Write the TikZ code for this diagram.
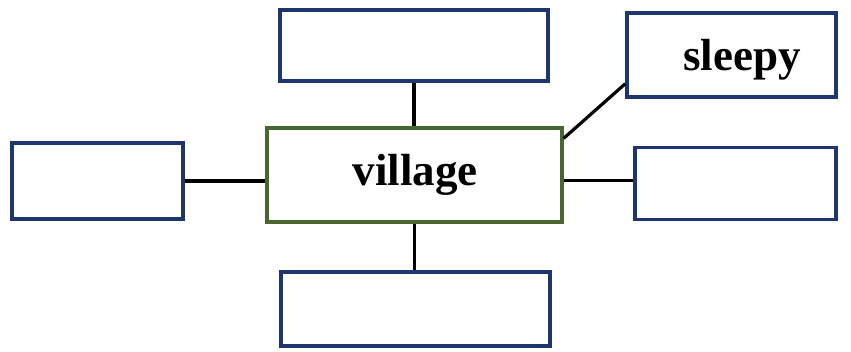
\documentclass[tikz,border=0pt]{standalone}
\usepackage{fontspec}
\setmainfont{Liberation Serif}
\usetikzlibrary{calc}
\definecolor{navy}{HTML}{1F3570}
\definecolor{olive}{HTML}{4A6530}
\begin{document}
\begin{tikzpicture}[x=1pt,y=-1pt,
  bluebox/.style={draw=navy,line width=3.5pt,fill=white,inner sep=0pt},
  greenbox/.style={draw=olive,line width=3.2pt,fill=white,inner sep=0pt},
  link/.style={draw=black,line width=3.2pt},
  lbl/.style={font=\bfseries\fontsize{45}{50}\selectfont,inner sep=0pt}]
\useasboundingbox[fill=white] (0,0) rectangle (851,351);
\node[greenbox,minimum width=295pt,minimum height=94pt] (c) at (414.5,175) {};
\node[lbl] (ct) at (415,175) {village};
\node[bluebox,minimum width=268pt,minimum height=71pt] (t) at (414,45.5) {};
\node[bluebox,minimum width=269pt,minimum height=74pt] (b) at (415.5,309) {};
\node[bluebox,minimum width=171pt,minimum height=76pt] (l) at (97.5,181) {};
\node[bluebox,minimum width=201pt,minimum height=72pt] (r) at (735.5,183.5) {};
\node[bluebox,minimum width=209pt,minimum height=84pt] (s) at (731.5,55) {};
\node[lbl] (stx) at (742,60) {sleepy};
\draw[link] (t.south) -- (t.south |- c.north);
\draw[link] (c.south) -- (c.south |- b.north);
\draw[link] (l.east) -- (l.east -| c.west);
\draw[link] ($(r.west -| c.east)+(0,-3)$) -- ($(r.west)+(0,-3)$);
\draw[link] ($(c.north east)+(0,12)$) -- ($(s.south west)+(0,-15)$);
\end{tikzpicture}
\end{document}
